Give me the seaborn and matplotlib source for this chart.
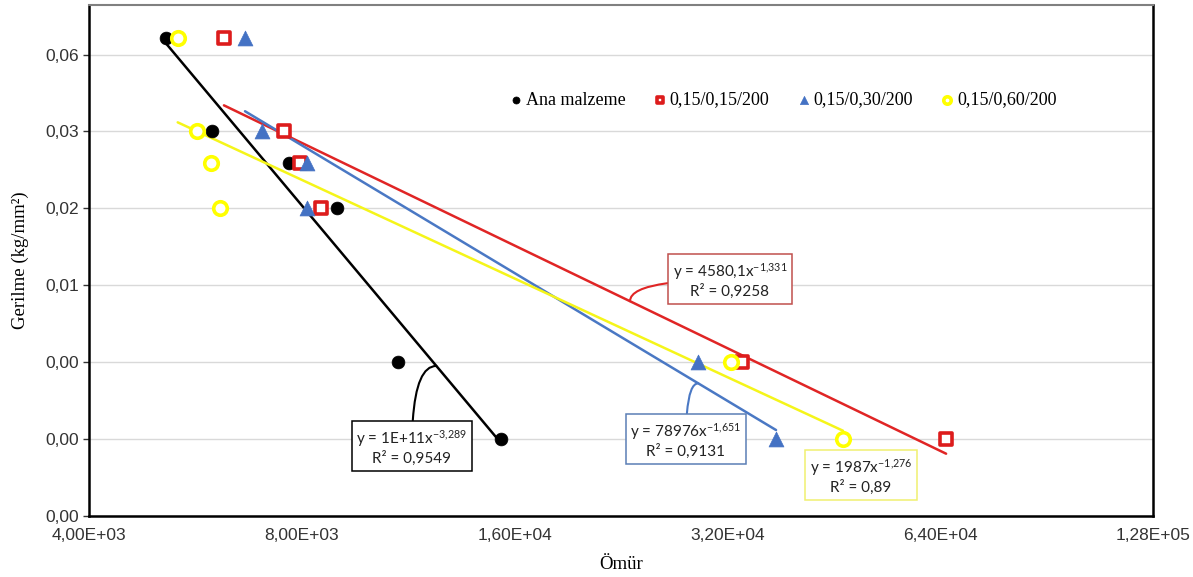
import numpy as np
import pandas as pd
import matplotlib
matplotlib.use("Agg")
import matplotlib.pyplot as plt
import seaborn as sns

# stress levels shared by all four series (kg/mm2)
gerilme = [0.074, 0.032, 0.024, 0.016, 0.004, 0.002]

# life (cycles) for each series
omur_ana = [5140, 5976, 7673, 8971, 10956, 15293]
omur_015 = [6208, 7557, 7953, 8517, 33527, 65240]
omur_030 = [6649, 7034, 8129, 8129, 29106, 37494]
omur_060 = [5340, 5681, 5951, 6130, 32376, 46640]

seri_adlari = ["Ana malzeme", "0,15/0,15/200", "0,15/0,30/200", "0,15/0,60/200"]
seri_omur = [omur_ana, omur_015, omur_030, omur_060]

x_ticks = [4000, 8000, 16000, 32000, 64000, 128000]
x_labels = ["4,00E+03", "8,00E+03", "1,60E+04", "3,20E+04", "6,40E+04", "1,28E+05"]
y_ticks = [0.001, 0.002, 0.004, 0.008, 0.016, 0.032, 0.064]
y_labels = ["0,00", "0,00", "0,00", "0,01", "0,02", "0,03", "0,06"]

denklemler = [
    "y = 1E+11x$^{-3{,}289}$\nR² = 0,9549",
    "y = 4580,1x$^{-1{,}331}$\nR² = 0,9258",
    "y = 78976x$^{-1{,}651}$\nR² = 0,9131",
    "y = 1987x$^{-1{,}276}$\nR² = 0,89",
]

# style per series
renkler = ["black", "#dd1c1c", "#4472c4", "#ffff00"]
cizgi_renk = ["black", "#e02525", "#4a78c4", "#f5f51a"]
kutu_renk = ["black", "#c0504d", "#5b7fb5", "#f0f070"]
markerler = ["o", "s", "^", "o"]
boyutlar = [85, 80, 115, 95]
dolu = [True, False, True, False]

# callout: anchor x on the trend line (None = no connector), box centre in figure pixels,
# connector style
etiket_x = [12400, 23300, 29100, None]
kutu_merkez = [(412, 130), (730, 297), (686, 137), (861, 101)]
baglanti = ["angle3,angleA=90,angleB=0", "angle3,angleA=0,angleB=90",
            "angle3,angleA=90,angleB=0", None]

sns.set_theme(style="white")
plt.rcParams["font.family"] = ["Liberation Sans", "DejaVu Sans"]
plt.rcParams["mathtext.fontset"] = "custom"
plt.rcParams["mathtext.default"] = "regular"

fig = plt.figure(figsize=(11.93, 5.77), dpi=100)
ax = fig.add_axes([89 / 1193, 61 / 577, 1064 / 1193, 511 / 577])
ax.set_xscale("log", base=2)
ax.set_yscale("log", base=2)

for i, ad in enumerate(seri_adlari):
    df = pd.DataFrame({"omur": seri_omur[i], "gerilme": gerilme})

    # power trend line, fitted in log space and drawn between min and max life
    b, a = np.polyfit(np.log(df["omur"]), np.log(df["gerilme"]), 1)
    xt = np.geomspace(df["omur"].min(), df["omur"].max(), 60)
    sns.lineplot(x=xt, y=np.exp(a) * xt ** b, ax=ax, color=cizgi_renk[i], lw=1.8,
                 sort=False, legend=False, zorder=2)

    if dolu[i]:
        sns.scatterplot(data=df, x="omur", y="gerilme", ax=ax, marker=markerler[i],
                        s=boyutlar[i], color=renkler[i], edgecolor=renkler[i],
                        linewidth=0.5, label=ad, zorder=3)
    else:
        sns.scatterplot(data=df, x="omur", y="gerilme", ax=ax, marker=markerler[i],
                        s=boyutlar[i], color=renkler[i], facecolor="white",
                        edgecolor=renkler[i], linewidth=2.6, label=ad, zorder=3)

    kutu = dict(boxstyle="square,pad=0.3", fc="white", ec=kutu_renk[i], lw=1.1)
    if etiket_x[i] is not None:
        ya = np.exp(a) * etiket_x[i] ** b
        ax.annotate(denklemler[i], xy=(etiket_x[i], ya), xycoords="data",
                    xytext=kutu_merkez[i], textcoords="figure pixels",
                    ha="center", va="center", fontsize=11, family="Lato",
                    color="#222222", bbox=kutu, zorder=5,
                    arrowprops=dict(arrowstyle="-", color=cizgi_renk[i],
                                    lw=1.5, connectionstyle=baglanti[i],
                                    shrinkA=0, shrinkB=0))
    else:
        fig.text(kutu_merkez[i][0] / 1193, kutu_merkez[i][1] / 577, denklemler[i],
                 ha="center", va="center", fontsize=11, family="Lato",
                 color="#222222", bbox=kutu, zorder=5)

ax.set_xlim(4000, 128000)
ax.set_ylim(0.001, 0.1)
ax.minorticks_off()
ax.set_xticks(x_ticks)
ax.set_xticklabels(x_labels)
ax.set_yticks(y_ticks)
ax.set_yticklabels(y_labels)
ax.tick_params(axis="x", length=0, pad=9, labelsize=12.5, colors="#333333")
ax.tick_params(axis="y", length=4, width=1, pad=3, labelsize=12.5, colors="#333333",
               left=True)
ax.yaxis.grid(True, color="#d9d9d9", lw=1)
ax.xaxis.grid(False)
ax.set_axisbelow(True)

for side in ["left", "bottom", "right"]:
    ax.spines[side].set_color("black")
    ax.spines[side].set_linewidth(1.8)
ax.spines["top"].set_color("#808080")
ax.spines["top"].set_linewidth(1.5)

ax.set_xlabel("Ömür", family="Liberation Serif", fontsize=13.5, color="black", labelpad=9)
ax.set_ylabel("Gerilme (kg/mm²)", family="Liberation Serif", fontsize=13.5,
              color="black", labelpad=12)

leg = ax.legend(loc="center", bbox_to_anchor=(0.651, 0.814), ncol=4, frameon=False,
                markerscale=0.55, handletextpad=0.05, columnspacing=1.4,
                handlelength=1.0, prop={"family": "Liberation Serif", "size": 13})
for t in leg.get_texts():
    t.set_color("black")

fig.savefig("out.png", dpi=100)
